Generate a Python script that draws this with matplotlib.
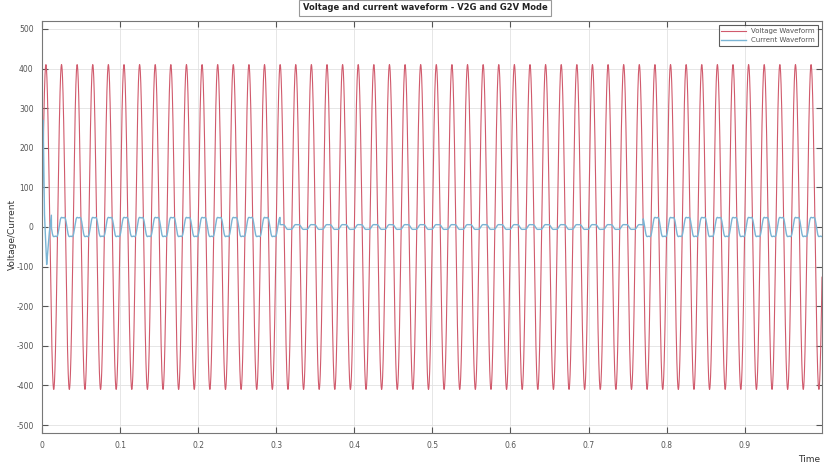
import numpy as np
import matplotlib
matplotlib.use('Agg')
import matplotlib.pyplot as plt

plt.rcParams['axes.unicode_minus'] = False

# waveform parameters
freq_hz = 50.0
v_peak = 410.0
t_end = 0.999

# current amplitude per operating segment (V2G / reduced / G2V)
seg_start = [0.00, 0.305, 0.77]
seg_end = [0.305, 0.77, 1.00]
seg_amp = [28.0, 7.0, 28.0]

# start-up transient of the current (time, value)
trans_t = [0.000, 0.0015, 0.003, 0.006, 0.009, 0.012]
trans_i = [0.0, 270.0, 40.0, -95.0, -20.0, 30.0]

t = np.linspace(0, t_end, 20000)
voltage = v_peak * np.sin(2 * np.pi * freq_hz * t)

amp = np.zeros_like(t)
for a, b, A in zip(seg_start, seg_end, seg_amp):
    amp[(t >= a) & (t < b)] = A
phase = 2 * np.pi * freq_hz * t - 0.6
current = amp * (np.sin(phase) + 0.18 * np.sin(3 * phase))
mask = t < trans_t[-1]
current[mask] = np.interp(t[mask], trans_t, trans_i)

fig = plt.figure(figsize=(8.3, 4.69), dpi=100)
ax = fig.add_axes([42 / 830, 1 - 433 / 469, 780 / 830, 412 / 469])

ax.plot(t, voltage, color='#d05a6c', linewidth=0.8, label='Voltage Waveform')
ax.plot(t, current, color='#7ab4d4', linewidth=1.0, label='Current Waveform')

ax.set_xlim(0, t_end)
ax.set_ylim(-520, 520)
ax.set_xticks(np.arange(0, 1.0, 0.1))
ax.set_xticklabels(['0', '0.1', '0.2', '0.3', '0.4', '0.5', '0.6', '0.7', '0.8', '0.9'])
ax.set_yticks(np.arange(-500, 501, 100))
ax.tick_params(direction='in', length=4, labelsize=5.5, colors='#555555',
               top=True, right=True, pad=6)
ax.grid(True, color='#e2e2e2', linewidth=0.6)
for s in ax.spines.values():
    s.set_color('#777777')
    s.set_linewidth(0.8)

fig.text(12 / 830, 0.5, 'Voltage/Current', fontsize=6.5, color='#333333',
         rotation=90, ha='center', va='center')
fig.text(0.975, 0.015, 'Time', fontsize=6.5, color='#333333', ha='center')

fig.text(0.512, 0.983, 'Voltage and current waveform - V2G and G2V Mode',
         fontsize=6, fontweight='bold', color='#222222', ha='center', va='center',
         bbox=dict(boxstyle='square,pad=0.4', facecolor='white', edgecolor='#999999',
                   linewidth=0.8))

leg = ax.legend(loc='upper right', fontsize=5, frameon=True, fancybox=False,
                edgecolor='#333333', handlelength=3.5, borderaxespad=0.6)
leg.get_frame().set_linewidth(0.8)
for txt in leg.get_texts():
    txt.set_color('#555555')

fig.savefig('out.png', dpi=100)
